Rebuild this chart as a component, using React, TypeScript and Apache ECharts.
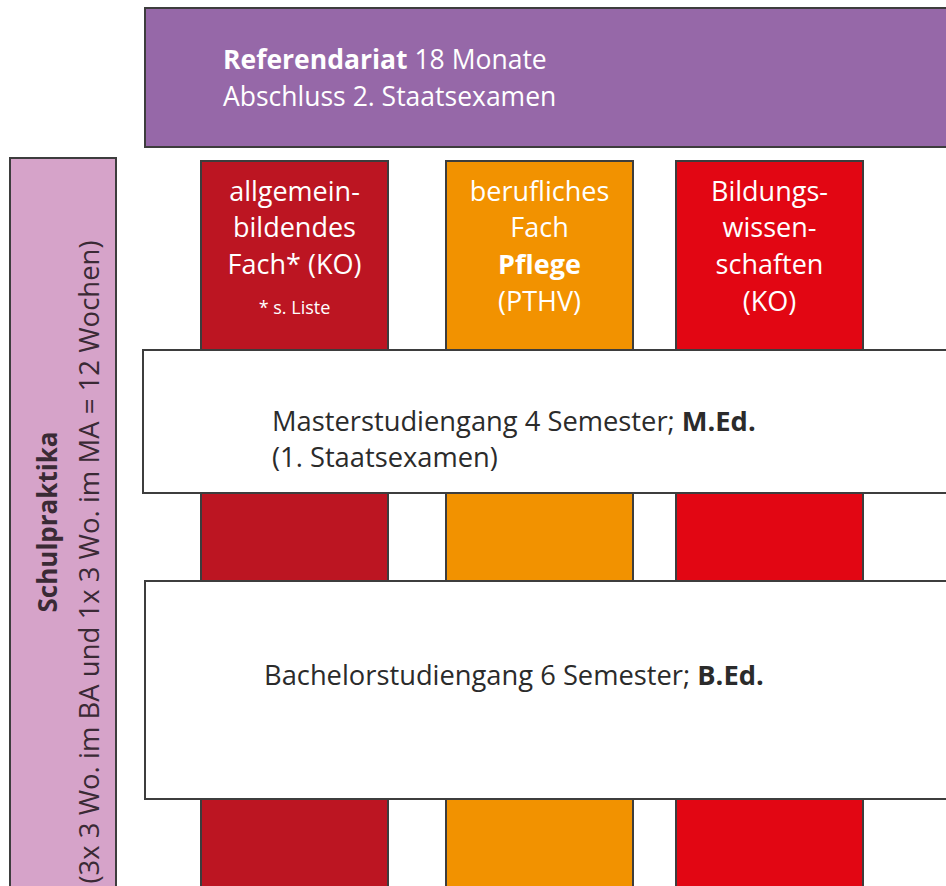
import React, { useEffect, useRef } from "react";
import * as echarts from "echarts";

// ---- content ----
const referendariatBold = "Referendariat";
const referendariatRest = " 18 Monate";
const referendariatLine2 = "Abschluss 2. Staatsexamen";

const columnLines: string[][] = [
  ["allgemein-", "bildendes", "Fach* (KO)"],
  ["berufliches", "Fach", "{b|Pflege}", "(PTHV)"],
  ["Bildungs-", "wissen-", "schaften", "(KO)"],
];
const columnFootnote = "* s. Liste";
const columnColors = ["#bc1522", "#f29200", "#e20613"];

const masterLine1 = "Masterstudiengang 4 Semester; ";
const masterBold = "M.Ed.";
const masterLine2 = "(1. Staatsexamen)";
const bachelorLine = "Bachelorstudiengang 6 Semester; ";
const bachelorBold = "B.Ed.";

const sideTitle = "Schulpraktika";
const sideSub = "(3x 3 Wo. im BA und 1x 3 Wo. im MA = 12 Wochen)";

const FONT = "'Open Sans', 'Noto Sans', sans-serif";
const BORDER = "#3d3d3d";

export default function App() {
  const ref = useRef<HTMLDivElement>(null);
  useEffect(() => {
    if (!ref.current) return;
    const chart = echarts.init(ref.current, undefined, { renderer: "svg" });
    const colX = [201, 446, 676];
    const colW = 187;
    const els: any[] = [];
    // purple top box
    const pLH = 37;
    els.push({
      type: "rect",
      shape: { x: 145, y: 8, width: 830, height: 139 },
      style: { fill: "#9668a8", stroke: BORDER, lineWidth: 2 },
    });
    els.push({
      type: "text",
      x: 223,
      y: 59 - pLH / 2,
      style: {
        text: `{b|${referendariatBold}}{r|${referendariatRest}}\n{r|${referendariatLine2}}`,
        fill: "#ffffff",
        verticalAlign: "top",
        lineHeight: pLH,
        rich: {
          b: { fontWeight: "bold", fontSize: 26.5, fontFamily: FONT, fill: "#fff", lineHeight: pLH },
          r: { fontSize: 26.5, fontFamily: FONT, fill: "#fff", lineHeight: pLH },
        },
      },
    });
    // pink side bar
    els.push({
      type: "rect",
      shape: { x: 10, y: 158, width: 106, height: 760 },
      style: { fill: "#d6a3c9", stroke: BORDER, lineWidth: 2 },
    });
    els.push({
      type: "text",
      x: 47,
      y: 522,
      rotation: Math.PI / 2,
      style: {
        text: sideTitle,
        fontFamily: FONT,
        fontWeight: "bold",
        fontSize: 26,
        fill: "#3a2a35",
        align: "center",
        verticalAlign: "middle",
      },
    });
    els.push({
      type: "text",
      x: 88,
      y: 562,
      rotation: Math.PI / 2,
      style: {
        text: sideSub,
        fontFamily: FONT,
        fontSize: 27.5,
        fill: "#3a2a35",
        align: "center",
        verticalAlign: "middle",
      },
    });
    // columns
    const cLH = 36.7;
    colX.forEach((x, i) => {
      els.push({
        type: "rect",
        shape: { x, y: 161, width: colW, height: 760 },
        style: { fill: columnColors[i], stroke: BORDER, lineWidth: 2 },
      });
      els.push({
        type: "text",
        x: x + colW / 2,
        y: 190 - cLH / 2,
        style: {
          text: columnLines[i].join("\n"),
          fontFamily: FONT,
          fontSize: 27,
          lineHeight: cLH,
          fill: "#ffffff",
          align: "center",
          verticalAlign: "top",
          rich: {
            b: { fontWeight: "bold", fontSize: 27, fontFamily: FONT, fill: "#fff", lineHeight: cLH },
          },
        },
      });
    });
    els.push({
      type: "text",
      x: colX[0] + colW / 2,
      y: 307,
      style: {
        text: columnFootnote,
        fontFamily: FONT,
        fontSize: 18,
        fill: "#ffffff",
        align: "center",
        verticalAlign: "middle",
      },
    });
    // master box
    const mLH = 36;
    els.push({
      type: "rect",
      shape: { x: 143, y: 350, width: 830, height: 143 },
      style: { fill: "#ffffff", stroke: BORDER, lineWidth: 2 },
    });
    els.push({
      type: "text",
      x: 272,
      y: 420 - mLH / 2,
      style: {
        text: `{r|${masterLine1}}{b|${masterBold}}\n{r|${masterLine2}}`,
        verticalAlign: "top",
        lineHeight: mLH,
        rich: {
          r: { fontSize: 27.3, fontFamily: FONT, fill: "#2b2b2b", lineHeight: mLH },
          b: { fontSize: 27.3, fontFamily: FONT, fontWeight: "bold", fill: "#2b2b2b", lineHeight: mLH },
        },
      },
    });
    // bachelor box
    els.push({
      type: "rect",
      shape: { x: 145, y: 581, width: 830, height: 218 },
      style: { fill: "#ffffff", stroke: BORDER, lineWidth: 2 },
    });
    els.push({
      type: "text",
      x: 264,
      y: 674,
      style: {
        text: `{r|${bachelorLine}}{b|${bachelorBold}}`,
        verticalAlign: "middle",
        rich: {
          r: { fontSize: 27.3, fontFamily: FONT, fill: "#2b2b2b" },
          b: { fontSize: 27.3, fontFamily: FONT, fontWeight: "bold", fill: "#2b2b2b" },
        },
      },
    });
    chart.setOption({ animation: false, graphic: { elements: els } });
    return () => chart.dispose();
  }, []);
  return (
    <div
      ref={ref}
      style={{ position: "fixed", left: 0, top: 0, width: 946, height: 886, background: "#fff" }}
    />
  );
}
